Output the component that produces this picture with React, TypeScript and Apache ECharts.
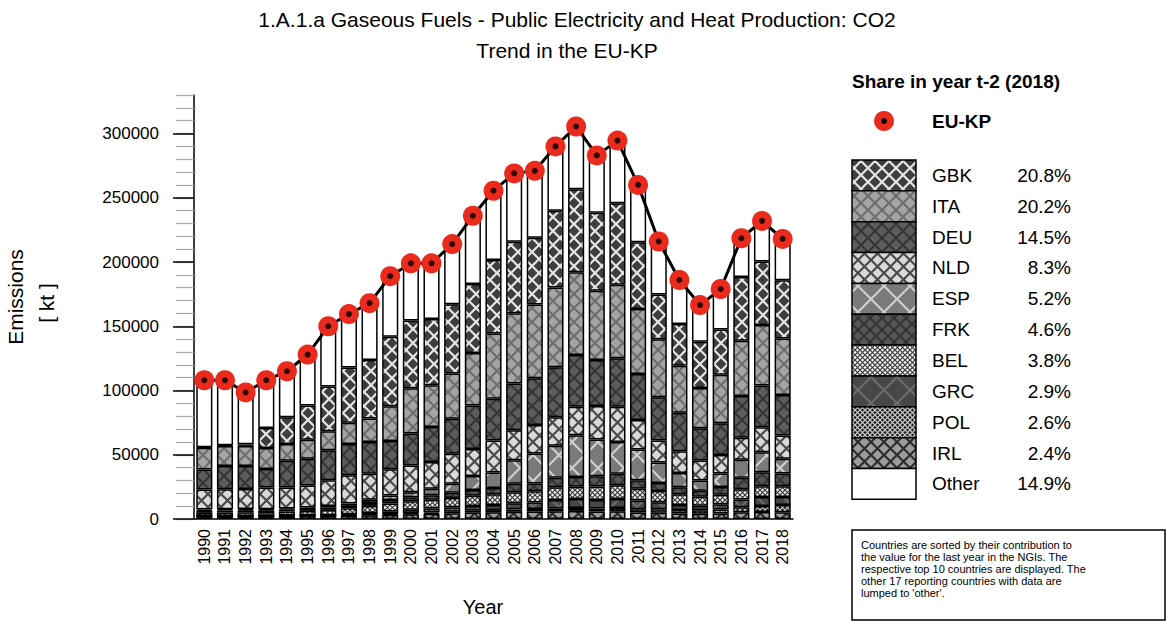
import React, { useEffect, useRef } from "react";
import * as echarts from "echarts";

const years = ["1990","1991","1992","1993","1994","1995","1996","1997","1998","1999","2000","2001","2002","2003","2004","2005","2006","2007","2008","2009","2010","2011","2012","2013","2014","2015","2016","2017","2018"];

const euKp = [108000,108000,98500,108000,115000,128000,150000,159500,168000,189000,199000,199000,214000,236000,255500,269000,271000,290000,305500,283000,294500,260000,216000,186000,166500,179000,218500,232000,218000];

const IRL = [2000,2100,2200,2300,2400,2500,2600,2800,3000,3300,3600,4000,4500,5000,5200,5600,5800,6000,6300,5800,6000,5000,4800,4300,4000,4200,5300,5400,5200];
const POL = [300,200,200,200,250,300,300,400,500,600,800,1000,1200,1500,1700,1900,2000,2200,2300,2400,2500,2600,2700,2800,2900,3200,3900,4700,5700];
const GRC = [0,0,0,0,0,0,0,500,1200,2000,2800,3200,3500,3700,4000,4800,5000,6500,7000,6500,7000,6800,5500,3800,3500,4000,6000,7000,6300];
const BEL = [2500,2700,2800,2900,3200,3500,4200,4700,5500,6200,6700,6800,7200,7800,8300,8600,8800,10000,9500,10500,10800,9200,8800,8400,7000,7500,8000,8300,8300];
const FRK = [1500,1700,1600,1400,1400,1500,1700,1800,2300,2600,3000,3500,4000,4500,5000,6500,6000,7500,7500,8000,9000,6500,6200,5500,4500,6000,9000,11000,10000];
const ESP = [1000,900,900,800,900,1200,1400,1800,2500,3500,4000,5000,7000,11000,12000,18300,23400,24800,32600,28700,24700,24000,16000,11000,8000,10500,14000,15500,11300];
const NLD = [15600,15600,15600,17000,16400,17000,20000,22100,20300,20500,20800,20800,23400,21000,24800,23400,22200,22100,22100,26000,27300,22900,17000,17000,15600,14400,17000,19500,18100];
const DEU = [15600,18000,18000,14300,20800,20800,23400,24200,24700,22000,24800,27300,27300,33800,32500,36400,36400,39100,40400,35900,37800,35900,33800,29900,25200,24700,32600,32600,31600];
const ITA = [16900,15600,15600,16400,13000,14800,14600,16700,18200,27000,35200,32500,35200,40900,50800,54700,57300,62000,64300,53900,57300,50500,45100,36500,31300,37800,43000,46900,44000];
const GBK = [500,600,1200,15600,20800,26800,34900,43000,45600,54200,52800,51600,53900,53700,57300,55500,52000,59800,64600,60700,63300,52000,34800,32600,35900,35200,49500,49500,45300];
const Other = [52100,50600,40400,37100,35850,39600,46900,41500,44200,47100,44500,43300,46800,53100,53900,53300,52100,50000,48900,44600,48800,44600,41300,34200,28600,31500,30200,31600,32200];

const legendNames = ["GBK","ITA","DEU","NLD","ESP","FRK","BEL","GRC","POL","IRL","Other"];
const legendShares = ["20.8%","20.2%","14.5%","8.3%","5.2%","4.6%","3.8%","2.9%","2.6%","2.4%","14.9%"];
const yTicks = [0,50000,100000,150000,200000,250000,300000];
const noteLines = [
  "Countries are sorted by their contribution to",
  "the value for the last year in the NGIs. The",
  "respective top 10 countries are displayed. The",
  "other 17 reporting countries with data are",
  "lumped to 'other'."
];

const FONT = "'Liberation Sans', Arial, Helvetica, sans-serif";

function lattice(bg: string, fg: string, cell: number, lw: number) {
  const c = document.createElement("canvas");
  c.width = cell;
  c.height = cell;
  const g = c.getContext("2d")!;
  g.fillStyle = bg;
  g.fillRect(0, 0, cell, cell);
  g.strokeStyle = fg;
  g.lineWidth = lw;
  g.beginPath();
  g.moveTo(-1, -1); g.lineTo(cell + 1, cell + 1);
  g.moveTo(cell + 1, -1); g.lineTo(-1, cell + 1);
  g.stroke();
  return { image: c, repeat: "repeat", imageWidth: cell, imageHeight: cell } as any;
}

export default function App() {
  const ref = useRef<HTMLDivElement>(null);
  useEffect(() => {
    if (!ref.current) return;
    const chart = echarts.init(ref.current, null, { renderer: "svg" });

    const pats: Record<string, any> = {
      GBK: lattice("#3e3e3e", "#e6e6e6", 14, 2.2),
      ITA: lattice("#a4a4a4", "#6e6e6e", 14, 2.2),
      DEU: lattice("#5c5c5c", "#363636", 14, 2.2),
      NLD: lattice("#d9d9d9", "#4a4a4a", 13, 2.2),
      ESP: lattice("#7a7a7a", "#cfcfcf", 26, 2.2),
      FRK: lattice("#555555", "#353535", 12, 2.2),
      BEL: lattice("#f2f2f2", "#3a3a3a", 5, 1.2),
      GRC: lattice("#474747", "#6c6c6c", 26, 2.2),
      POL: lattice("#1e1e1e", "#d0d0d0", 5, 1.2),
      IRL: lattice("#9c9c9c", "#2e2e2e", 13, 2.2),
      Other: "#ffffff",
    };

    const stackOrder: [string, number[]][] = [
      ["IRL", IRL], ["POL", POL], ["GRC", GRC], ["BEL", BEL], ["FRK", FRK],
      ["ESP", ESP], ["NLD", NLD], ["DEU", DEU], ["ITA", ITA], ["GBK", GBK], ["Other", Other],
    ];

    const barSeries = stackOrder.map(([name, data]) => ({
      name,
      type: "bar",
      stack: "eu",
      data,
      barCategoryGap: "22%",
      itemStyle: { color: pats[name], borderColor: "#000", borderWidth: 1.5 },
      emphasis: { disabled: true },
      xAxisIndex: 0,
      yAxisIndex: 0,
    }));

    const rowH = 30.85;
    const legendTop = 160;
    const graphics: any[] = [
      { type: "text", x: 577, y: 19, style: { text: "1.A.1.a Gaseous Fuels - Public Electricity and Heat Production: CO2", fontSize: 21, fontFamily: FONT, fill: "#000", textAlign: "center", textVerticalAlign: "middle" } },
      { type: "text", x: 567, y: 50, style: { text: "Trend in the EU-KP", fontSize: 21, fontFamily: FONT, fill: "#000", textAlign: "center", textVerticalAlign: "middle" } },
      { type: "text", x: 15, y: 297, rotation: Math.PI / 2, style: { text: "Emissions", fontSize: 21, fontFamily: FONT, fill: "#000", textAlign: "center", textVerticalAlign: "middle" } },
      { type: "text", x: 46, y: 303, rotation: Math.PI / 2, style: { text: "[ kt ]", fontSize: 21, fontFamily: FONT, fill: "#000", textAlign: "center", textVerticalAlign: "middle" } },
      { type: "text", x: 483, y: 607, style: { text: "Year", fontSize: 20, fontFamily: FONT, fill: "#000", textAlign: "center", textVerticalAlign: "middle" } },
      { type: "text", x: 852, y: 81, style: { text: "Share in year t-2 (2018)", fontSize: 19, fontWeight: "bold", fontFamily: FONT, fill: "#000", textAlign: "left", textVerticalAlign: "middle" } },
      { type: "circle", shape: { cx: 884, cy: 121, r: 10 }, style: { fill: "#ea2a1c" } },
      { type: "circle", shape: { cx: 884, cy: 121, r: 3 }, style: { fill: "#000" } },
      { type: "text", x: 932, y: 121, style: { text: "EU-KP", fontSize: 19, fontWeight: "bold", fontFamily: FONT, fill: "#000", textAlign: "left", textVerticalAlign: "middle" } },
      { type: "rect", shape: { x: 852, y: 530, width: 313, height: 90 }, style: { fill: "#fff", stroke: "#000", lineWidth: 1.5 } },
    ];
    legendNames.forEach((n, i) => {
      const y = legendTop + i * rowH;
      graphics.push({ type: "rect", shape: { x: 852, y, width: 64, height: rowH }, style: { fill: pats[n], stroke: "#000", lineWidth: 1.5 } });
      graphics.push({ type: "text", x: 932, y: y + rowH / 2, style: { text: n, fontSize: 19, fontFamily: FONT, fill: "#000", textAlign: "left", textVerticalAlign: "middle" } });
      graphics.push({ type: "text", x: 1071, y: y + rowH / 2, style: { text: legendShares[i], fontSize: 19, fontFamily: FONT, fill: "#000", textAlign: "right", textVerticalAlign: "middle" } });
    });
    noteLines.forEach((t, i) => {
      graphics.push({ type: "text", x: 861, y: 545 + i * 12, style: { text: t, fontSize: 11, fontFamily: FONT, fill: "#000", textAlign: "left", textVerticalAlign: "middle" } });
    });

    chart.setOption({
      animation: false,
      textStyle: { fontFamily: FONT },
      grid: { left: 194, right: 374, top: 95, bottom: 103 },
      xAxis: {
        type: "category",
        data: years,
        axisLine: { lineStyle: { color: "#000", width: 1.5 } },
        axisTick: { alignWithLabel: true, interval: 0, length: 6, lineStyle: { color: "#000", width: 1.2 } },
        axisLabel: { rotate: 90, interval: 0, fontSize: 16, color: "#000", margin: 10, fontFamily: FONT },
      },
      yAxis: [
        {
          type: "value", min: 0, max: 330000, interval: 10000,
          axisLine: { show: true, lineStyle: { color: "#000", width: 1.5 } },
          axisTick: { show: true, length: 18, lineStyle: { color: "#aaaaaa", width: 1.2 } },
          axisLabel: { show: false },
          splitLine: { show: false },
        },
        {
          type: "value", min: 0, max: 330000, position: "left",
          axisLine: { show: false },
          axisTick: { show: true, length: 21, customValues: yTicks, lineStyle: { color: "#000", width: 1.5 } },
          axisLabel: { customValues: yTicks, fontSize: 17, color: "#000", margin: 35, fontFamily: FONT, formatter: (v: number) => String(v) },
          splitLine: { show: false },
        },
      ],
      series: [
        ...barSeries,
        {
          name: "EU-KP", type: "line", data: euKp, yAxisIndex: 0,
          symbol: "circle", symbolSize: 20, showAllSymbol: true,
          lineStyle: { color: "#000", width: 3 },
          itemStyle: { color: "#ea2a1c" },
          emphasis: { disabled: true },
          z: 5,
        },
        {
          name: "EU-KP dot", type: "scatter", data: euKp, yAxisIndex: 0,
          symbol: "circle", symbolSize: 6,
          itemStyle: { color: "#000" },
          emphasis: { disabled: true },
          z: 6,
        },
      ],
      graphic: graphics,
    });
    return () => chart.dispose();
  }, []);
  return <div ref={ref} style={{ position: "fixed", left: 0, top: 0, width: 1167, height: 622, background: "#fff" }} />;
}
